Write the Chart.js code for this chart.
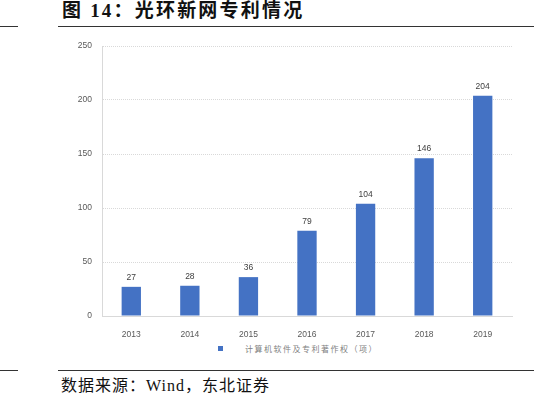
<!DOCTYPE html>
<html>
<head>
<meta charset="utf-8">
<script src="https://cdn.jsdelivr.net/npm/chart.js@4/dist/chart.umd.min.js"></script>
<style>
  html, body { margin: 0; padding: 0; background: #fff; }
  body { width: 553px; height: 398px; position: relative; overflow: hidden; }
  .rule { position: absolute; height: 1px; background: #333; }
  #title { position: absolute; left: 62px; top: 0px; font-family: "Liberation Serif", "Noto Sans CJK SC", serif; font-weight: bold; font-size: 19px; line-height: 22px; color: #111; white-space: nowrap; letter-spacing: 2.2px; }
  #source { position: absolute; left: 61px; top: 376px; font-family: "Liberation Serif", "Noto Sans CJK SC", serif; font-size: 16px; line-height: 20px; color: #111; white-space: nowrap; letter-spacing: 1px; }
  #chart { position: absolute; left: 0; top: 30px; }
  #legend { position: absolute; left: 218px; top: 343px; font-family: "Noto Sans CJK SC", sans-serif; font-size: 8px; line-height: 12px; color: #7f7f7f; white-space: nowrap; letter-spacing: 1.5px; }
  #legend .box { display: inline-block; width: 5px; height: 5px; background: #4472C4; vertical-align: middle; margin-right: 22px; position: relative; top: -1px; }
</style>
</head>
<body>
<div class="rule" style="left:0;top:26px;width:18px;"></div>
<div class="rule" style="left:58px;top:26px;width:476px;"></div>
<div id="title">图 14：光环新网专利情况</div>
<canvas id="chart" width="553" height="310"></canvas>
<div id="legend"><span class="box"></span><span id="legendText"></span></div>
<div class="rule" style="left:0;top:370px;width:18px;"></div>
<div class="rule" style="left:58px;top:370px;width:476px;"></div>
<div id="source">数据来源：Wind，东北证券</div>
<script>
const categories = ["2013", "2014", "2015", "2016", "2017", "2018", "2019"];
const seriesName = "计算机软件及专利著作权（项）";
const patentCounts = [27, 28, 36, 79, 104, 146, 204];
const yTicks = [0, 50, 100, 150, 200, 250];

document.getElementById('legendText').textContent = seriesName;

const tickFont = { family: '"Liberation Sans", "DejaVu Sans", sans-serif', size: 8.5 };

const valueLabels = {
  id: 'valueLabels',
  afterDatasetsDraw(chart) {
    const ctx = chart.ctx;
    const meta = chart.getDatasetMeta(0);
    ctx.save();
    ctx.font = '8.5px "Liberation Sans", sans-serif';
    ctx.fillStyle = '#404040';
    ctx.textAlign = 'center';
    ctx.textBaseline = 'bottom';
    meta.data.forEach((bar, i) => {
      ctx.fillText(String(patentCounts[i]), bar.x, bar.y - 5);
    });
    ctx.restore();
  }
};

new Chart(document.getElementById('chart'), {
  type: 'bar',
  data: {
    labels: categories,
    datasets: [{
      label: seriesName,
      data: patentCounts,
      backgroundColor: '#4472C4',
      borderWidth: 0,
      categoryPercentage: 1,
      barPercentage: 0.33
    }]
  },
  options: {
    responsive: false,
    animation: false,
    layout: { padding: { top: 16, left: 62, right: 41, bottom: 0 } },
    plugins: { legend: { display: false }, tooltip: { enabled: false } },
    scales: {
      x: {
        grid: { display: false },
        border: { display: true, color: '#d9d9d9', width: 1 },
        ticks: { color: '#595959', font: tickFont, padding: 6 },
        afterFit(s) { s.height = 24; }
      },
      y: {
        min: 0,
        max: 250,
        afterBuildTicks(s) { s.ticks = yTicks.map(v => ({ value: v })); },
        ticks: { color: '#595959', font: tickFont, padding: 10 },
        grid: { color: '#d9d9d9', drawTicks: false, lineWidth: 1 },
        border: { display: true, color: '#d9d9d9', width: 1, dash: [1, 1] },
        afterFit(s) { s.width = 40; }
      }
    }
  },
  plugins: [valueLabels]
});
</script>
</body>
</html>
